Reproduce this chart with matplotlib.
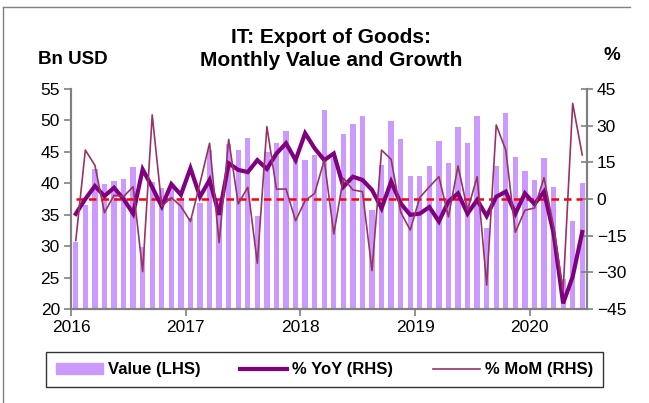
import matplotlib.pyplot as plt
import numpy as np
from matplotlib.lines import Line2D
from matplotlib.patches import Patch

plt.rcParams['font.family'] = ['Liberation Sans', 'DejaVu Sans']

# Monthly data, Jan 2016 - Jun 2020
anni = ['2016', '2017', '2018', '2019', '2020']
valore = [30.6, 36.6, 42.2, 39.9, 40.3, 40.6, 42.6, 29.9, 40.2, 39.2, 39.3, 37.7,
          34.5, 36.9, 45.3, 37.3, 46.2, 45.3, 47.2, 34.8, 44.9, 46.4, 48.3, 43.7,
          43.7, 44.5, 51.6, 44.0, 47.8, 49.5, 50.7, 35.8, 42.9, 49.9, 47.1, 41.1,
          41.1, 42.8, 46.7, 43.2, 48.9, 46.4, 50.7, 32.9, 42.8, 51.2, 44.1, 42.0,
          40.5, 44.0, 39.4, 24.8, 34.0, 40.1]
yoy = [-6.1, 0.0, 5.3, 1.2, 4.6, 0.0, -6.0, 12.1, 4.8, -3.0, 6.1, 1.7,
       12.6, 0.9, 7.8, -6.5, 14.6, 11.9, 11.0, 15.9, 12.3, 18.6, 22.8, 15.9,
       26.9, 20.7, 15.9, 18.6, 5.0, 9.1, 7.8, 3.7, -3.8, 7.1, -1.8, -6.5,
       -6.0, -3.3, -9.2, -1.0, 2.3, -6.0, -0.4, -7.0, 0.9, 3.0, -6.0, 2.3,
       -2.1, 3.0, -14.0, -42.7, -31.8, -13.5]
mom = [-17.0, 20.0, 13.8, -5.6, 1.5, 1.0, 5.0, -29.7, 34.4, -3.0, 0.6, -3.0,
       -9.2, 6.5, 22.8, -17.9, 24.4, -2.0, 4.8, -26.3, 29.6, 4.0, 4.1, -8.9,
       -0.7, 2.3, 15.9, -14.3, 8.5, 3.7, 3.0, -29.3, 20.0, 16.2, -5.4, -12.7,
       0.6, 5.0, 9.1, -7.3, 13.5, -4.6, 9.1, -35.2, 30.3, 20.0, -13.6, -4.6,
       -3.7, 8.7, -11.3, -37.5, 39.1, 18.0]

x = np.arange(len(valore)) + 0.5
zero = np.zeros(len(valore))

fig = plt.figure(figsize=(6.49, 4.03), dpi=100)
ax = fig.add_axes([0.1094, 0.2333, 0.7951, 0.5459])

ax.bar(x, np.array(valore) - 20, bottom=20, width=0.55, color='#CC99FF')
ax.set_xlim(0, len(valore))
ax.set_ylim(20, 55)
ax.set_yticks(np.arange(20, 56, 5))
ax.set_xticks(np.arange(0, len(valore), 12))
ax.set_xticklabels(anni)

ax2 = ax.twinx()
ax2.plot(x, zero, color='red', linestyle=(0, (3, 2)), linewidth=1.8)
ax2.plot(x, yoy, color='#800080', linewidth=3.0, solid_joinstyle='miter')
ax2.plot(x, mom, color='#993366', linewidth=1.2)
ax2.set_ylim(-45, 45)
ax2.set_yticks(np.arange(-45, 46, 15))

for a in (ax, ax2):
    for s in a.spines.values():
        s.set_color('#808080')
        s.set_linewidth(1.5)
    a.spines['top'].set_visible(False)
    a.tick_params(labelsize=12.5, color='#808080', width=1.2, length=5, pad=3)
ax.tick_params(axis='y', direction='out')
ax2.tick_params(axis='y', direction='inout', length=8)

fig.text(0.51, 0.908, 'IT: Export of Goods:', ha='center', va='center', fontsize=15, fontweight='bold')
fig.text(0.51, 0.851, 'Monthly Value and Growth', ha='center', va='center', fontsize=15, fontweight='bold')
fig.text(0.058, 0.853, 'Bn USD', ha='left', va='center', fontsize=13.5, fontweight='bold')
fig.text(0.943, 0.863, '%', ha='center', va='center', fontsize=13.5, fontweight='bold')

# bordo esterno
fig.add_artist(Line2D([0.005, 0.005], [0.0, 0.983], color='#808080', linewidth=1))
fig.add_artist(Line2D([0.005, 0.97], [0.983, 0.983], color='#808080', linewidth=1))

handles = [Patch(color='#CC99FF'),
           Line2D([], [], color='#800080', linewidth=3.0),
           Line2D([], [], color='#993366', linewidth=1.2)]
leg = fig.legend(handles, ['Value (LHS)', '% YoY (RHS)', '% MoM (RHS)'],
                 loc='center', bbox_to_anchor=(0.5, 0.082), ncol=3,
                 prop={'weight': 'bold', 'size': 12}, frameon=True, fancybox=False,
                 edgecolor='black', handlelength=2.8, handletextpad=0.3,
                 columnspacing=2.4, borderpad=0.6, borderaxespad=0)
leg.get_frame().set_linewidth(1.0)

plt.savefig('out.png', dpi=100)
